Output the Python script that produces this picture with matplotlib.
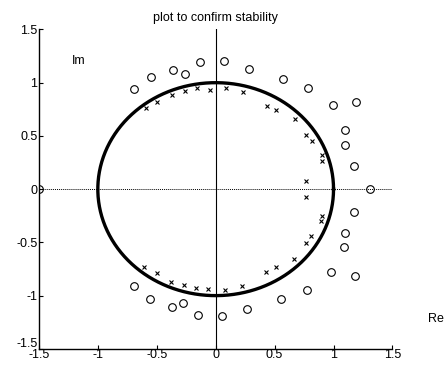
import numpy as np
import matplotlib
matplotlib.use("Agg")
import matplotlib.pyplot as plt
import matplotlib.transforms as mtransforms

plt.rcParams['font.family'] = ['Liberation Sans', 'DejaVu Sans']

title = "plot to confirm stability"
xticks = [-1.5, -1, -0.5, 0, 0.5, 1, 1.5]
yticks = [-1.5, -1, -0.5, 0, 0.5, 1, 1.5]
xtick_labels = ["-1.5", "-1", "-0.5", "0", "0.5", "1", "1.5"]
ytick_labels = ["-1.5", "-1", "-0.5", "0", "0.5", "1", "1.5"]

# open circles (upper then lower half)
o_re = [-0.693, -0.551, -0.362, -0.263, -0.133, 0.071, 0.283, 0.568, 0.783, 0.992,
        1.187, 1.097, 1.100, 1.176, 1.306, -1.498,
        -0.693, -0.560, -0.368, -0.277, -0.147, 0.057, 0.269, 0.551, 0.775, 0.975,
        1.182, 1.091, 1.097, 1.176]
o_im = [0.940, 1.052, 1.117, 1.077, 1.195, 1.201, 1.129, 1.033, 0.946, 0.788,
        0.819, 0.552, 0.410, 0.217, 0.0, 0.0,
        -0.912, -1.027, -1.105, -1.067, -1.185, -1.195, -1.123, -1.027, -0.943, -0.782,
        -0.819, -0.543, -0.410, -0.214]

# crosses
x_re = [-0.594, -0.495, -0.373, -0.260, -0.156, -0.051, 0.085, 0.235, 0.438, 0.515,
        0.673, 0.769, 0.814, 0.899, 0.905, 0.763,
        0.763, 0.905, 0.891, 0.806, 0.763, 0.664, 0.509, 0.424, 0.221, 0.076,
        -0.062, -0.170, -0.266, -0.379, -0.500, -0.608]
x_im = [0.763, 0.816, 0.887, 0.925, 0.949, 0.934, 0.949, 0.909, 0.779, 0.745,
        0.655, 0.512, 0.450, 0.320, 0.267, 0.078,
        -0.074, -0.254, -0.295, -0.444, -0.509, -0.658, -0.729, -0.779, -0.906, -0.946,
        -0.940, -0.928, -0.897, -0.875, -0.785, -0.729]

fig = plt.figure(figsize=(4.47, 3.68), dpi=100)
ax = fig.add_axes([0.087, 0.052, 0.791, 0.868])

theta = np.linspace(0, 2 * np.pi, 400)
ax.plot(np.cos(theta), np.sin(theta), color='black', lw=2.4, zorder=3)

ax.axhline(0, color='black', lw=0.7, linestyle=(0, (1, 1)), zorder=1)
ax.axvline(0, color='black', lw=0.8, zorder=1)

ax.plot(o_re, o_im, linestyle='none', marker='o', markersize=5.5,
        markerfacecolor='none', markeredgecolor='black', markeredgewidth=0.8, zorder=4)
ax.plot(x_re, x_im, linestyle='none', marker='x', markersize=3.5,
        color='black', markeredgewidth=0.8, zorder=4)

ax.set_xlim(-1.5, 1.5)
ax.set_ylim(-1.5, 1.5)
ax.set_xticks(xticks)
ax.set_xticklabels(xtick_labels)
ax.set_yticks(yticks)
ax.set_yticklabels(ytick_labels)
ax.tick_params(direction='in', length=3, width=0.8, labelsize=9, pad=1)
ax.tick_params(axis='x', pad=0)
ax.spines['top'].set_visible(False)
ax.spines['right'].set_visible(False)
ax.spines['left'].set_linewidth(1.0)
ax.spines['bottom'].set_linewidth(1.0)

# nudge the lowest y tick label up so it does not collide with the first x label
lbl = ax.get_yticklabels()[0]
lbl.set_transform(lbl.get_transform() + mtransforms.ScaledTranslation(0, 6 / 100, fig.dpi_scale_trans))

ax.set_title(title, fontsize=9, pad=6)
ax.text(-1.22, 1.2, "Im", fontsize=9, va='center', ha='left')
ax.text(1.8, -1.22, "Re", fontsize=9, va='center', ha='left', clip_on=False)

fig.savefig("out.png", dpi=100)
